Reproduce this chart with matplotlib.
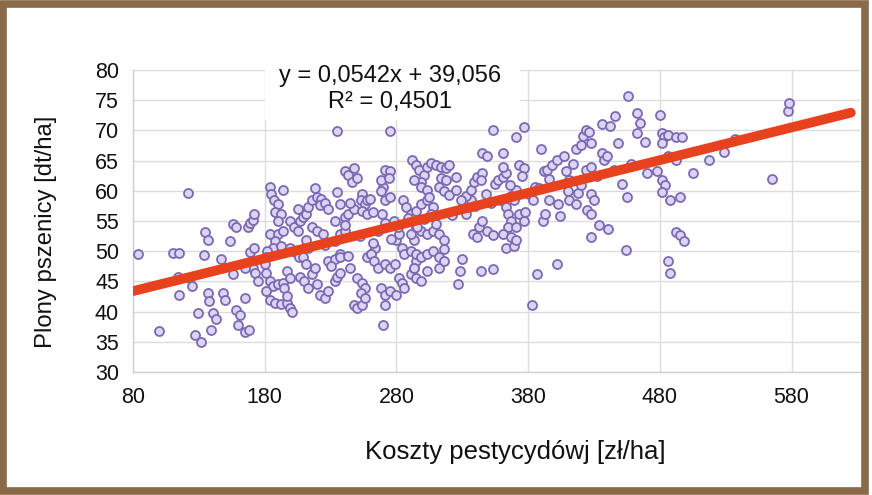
import matplotlib
matplotlib.use("Agg")
import matplotlib.pyplot as plt
from matplotlib.patches import Rectangle

plt.rcParams['font.family'] = ['Liberation Sans', 'DejaVu Sans']

# Scatter data: pesticide costs [zł/ha] vs wheat yield [dt/ha]
costs = [
    84, 100, 110, 115, 114, 115, 122, 123, 125, 129, 127, 132, 135, 137, 134, 137, 138,
    141, 143, 139, 147, 148, 150, 154, 156, 158, 156, 158, 161, 160, 165, 168, 165,
    167, 169, 171, 172, 169, 172, 171, 173, 175, 165,
    184, 185, 187, 190, 194, 188, 192, 190, 184, 190, 194, 188, 186, 192, 182, 181,
    180, 181, 184, 186, 190, 194, 181, 184, 188, 192, 197, 199, 201, 195, 197, 197, 199,
    199, 203, 206, 199, 202, 205, 207, 209, 211, 213, 216, 220, 218, 223, 222, 226, 228,
    216, 220, 224, 211, 213, 209, 211, 207, 210, 216, 218, 213, 220, 222, 226, 228, 233,
    235, 237, 228, 233, 237, 233, 237, 241, 233, 241, 243, 237, 235, 241, 243, 246, 248,
    250, 254, 253, 256, 258, 260, 248, 254, 258, 241, 237, 243, 245, 250, 254, 256, 253,
    248, 250, 254, 256, 258, 261, 264, 262, 266, 271, 269, 271, 275, 270, 268, 271, 275,
    274, 261, 263, 266, 271, 275, 279, 268, 271, 275, 271, 270, 275, 235,
    280, 282, 281, 278, 284, 286, 291, 293, 291, 282, 284, 286, 280, 291, 293, 295, 292,
    295, 297, 301, 299, 293, 303, 306, 310, 314, 318, 320, 285, 287, 291, 295, 299, 303,
    308, 306, 301, 299, 303, 312, 316, 320, 325, 314, 318, 325, 295, 299, 303, 308, 312,
    316, 316, 295, 299, 303, 308, 312, 293, 295, 299, 303, 312, 316, 327, 328, 330, 333,
    335, 337, 333, 337, 339, 341, 345, 344, 345, 349, 338, 341, 343, 345, 344, 353, 353,
    349, 353, 355, 357, 361, 363, 361, 361, 359, 363, 365, 367, 365, 361, 363, 367, 369,
    367, 369, 371, 373, 377, 371, 377, 373, 377, 371, 371,
    383, 387, 391, 393, 381, 384, 385, 390, 392, 394, 398, 396, 403, 402, 404, 402, 407,
    409, 411, 411, 416, 416, 420, 422, 424, 426, 428, 418, 420, 424, 428, 425, 428, 436,
    438, 440, 436, 442, 428, 434, 441, 428, 430, 446, 448, 451, 455, 454, 456, 463, 465,
    463, 469, 480, 482, 483, 482, 486, 492, 497, 478, 482, 484, 482, 488, 495, 486, 492,
    492, 495, 498, 486, 488, 505, 517, 529, 537, 565, 577, 578,
    230, 245, 262, 276, 289, 305, 322, 340, 352, 366, 378, 396, 410, 432, 458, 470,
    205, 226, 252, 268, 296, 310, 329, 348, 375, 388, 414, 445,
]
yields = [
    49.5, 36.8, 49.7, 49.7, 45.8, 42.8, 59.7, 45.5, 44.2, 39.8, 36.1, 35.0, 53.1, 51.8,
    49.4, 43.1, 41.7, 39.8, 38.7, 37.0, 48.7, 43.1, 42.0, 51.7, 54.5, 54.0, 46.2, 40.2,
    39.4, 37.8, 36.7, 37.0, 42.3, 54.0, 54.6, 55.2, 56.2, 49.9, 50.5, 47.3, 46.4, 45.0,
    47.3,
    60.7, 59.5, 58.5, 57.8, 60.2, 56.5, 56.2, 55.0, 52.9, 52.9, 53.4, 51.7, 50.6, 50.9,
    50.1, 49.0, 47.8, 46.4, 45.0, 44.2, 44.5, 44.8, 43.4, 42.0, 41.4, 41.3, 41.4, 40.6,
    40.0, 43.9, 42.5, 46.7, 45.6, 50.5, 49.8, 49.0, 55.0, 54.0, 53.4, 55.0, 55.6, 56.2,
    57.3, 58.4, 59.0, 60.4, 58.7, 57.6, 57.9, 57.0, 54.0, 53.4, 52.9, 51.8, 50.6, 49.0,
    47.8, 45.8, 45.0, 46.2, 47.3, 43.9, 44.5, 42.8, 42.3, 43.4, 45.0, 45.8, 46.4, 48.3,
    48.7, 49.5, 51.7, 52.9, 53.4, 55.0, 55.6, 56.2, 57.8, 59.8, 63.2, 62.6, 61.5, 63.7,
    62.2, 59.5, 58.4, 57.8, 58.4, 58.7, 57.0, 56.7, 56.2, 54.3, 49.0, 49.2, 47.3, 45.5,
    44.8, 43.9, 43.1, 41.1, 40.6, 41.1, 42.3, 49.0, 49.6, 50.5, 51.3, 53.4, 54.6, 56.2,
    58.4, 59.0, 60.7, 61.8, 63.4, 63.2, 62.1, 49.5, 48.4, 47.3, 47.8, 47.3, 47.8, 43.9,
    42.8, 43.4, 41.1, 37.8, 69.9, 69.9,
    51.8, 52.9, 54.0, 55.0, 50.6, 49.5, 50.1, 51.8, 52.9, 45.6, 44.8, 43.9, 42.8, 46.2,
    47.3, 48.4, 65.1, 64.3, 63.4, 62.6, 61.5, 61.8, 64.0, 64.6, 64.3, 64.0, 63.7, 64.3,
    58.4, 57.3, 56.2, 56.7, 57.8, 58.4, 57.3, 56.2, 55.3, 60.7, 60.1, 60.7, 59.9, 59.3,
    60.1, 62.1, 61.8, 62.3, 54.0, 53.4, 52.9, 53.4, 52.9, 51.8, 50.3, 49.6, 49.0, 49.6,
    50.1, 49.0, 47.3, 45.6, 45.0, 46.7, 47.3, 48.4, 44.5, 46.7, 48.7, 56.2, 57.3, 58.4,
    59.2, 60.1, 61.5, 62.3, 62.9, 61.8, 66.3, 65.7, 52.9, 52.3, 54.0, 55.0, 46.7, 47.0,
    70.1, 53.4, 52.6, 61.2, 61.8, 62.3, 62.9, 64.0, 66.2, 58.4, 57.3, 56.2, 55.0, 54.0,
    52.9, 50.6, 52.3, 50.9, 59.2, 58.4, 60.1, 64.3, 63.7, 68.9, 70.6, 56.2, 55.0, 54.0,
    51.8,
    41.1, 46.2, 55.0, 56.2, 59.5, 58.4, 60.7, 67.0, 63.2, 63.4, 64.3, 58.4, 57.8, 47.8,
    55.9, 65.1, 65.7, 63.2, 61.8, 58.4, 57.8, 67.0, 67.6, 69.0, 70.1, 69.8, 67.9, 59.6,
    61.0, 63.4, 64.0, 56.8, 56.2, 66.3, 65.1, 65.7, 71.0, 70.7, 52.3, 54.3, 53.7, 59.5,
    58.4, 72.4, 67.9, 61.2, 59.0, 50.2, 75.7, 72.9, 71.2, 69.6, 68.0, 72.6, 69.5, 68.9,
    67.9, 69.2, 68.9, 68.9, 63.2, 61.8, 61.0, 59.8, 58.4, 59.0, 65.7, 65.1, 53.1, 52.6,
    51.7, 48.4, 46.4, 62.9, 65.1, 66.5, 68.5, 62.0, 73.2, 74.6,
    47.5, 58.0, 56.5, 52.0, 55.5, 59.0, 56.0, 57.5, 58.0, 61.0, 56.5, 62.0, 60.0, 62.5,
    64.5, 63.0,
    57.0, 51.0, 52.5, 60.0, 54.0, 54.5, 58.5, 59.5, 62.5, 60.5, 64.5, 63.5,
]

# Linear trend line (Excel): y = 0,0542x + 39,056
slope = 0.0542
intercept = 39.056
r_squared = 0.4501
trend_range = [80, 625]

x_ticks = [80, 180, 280, 380, 480, 580]
y_ticks = [30, 35, 40, 45, 50, 55, 60, 65, 70, 75, 80]

W, H = 872, 495
fig = plt.figure(figsize=(W / 100, H / 100), dpi=100)
ax = fig.add_axes([133 / W, 1 - 372 / H, (860 - 133) / W, (372 - 70) / H])

ax.scatter(costs, yields, s=42, facecolor='#dcd4f2', edgecolor='#7a6ab4',
           linewidths=1.3, zorder=3)

tx = trend_range
ty = [slope * v + intercept for v in tx]
ax.plot(tx, ty, color='#e8411d', linewidth=7, solid_capstyle='round', zorder=4)

ax.set_xlim(80, 632)
ax.set_ylim(30, 80)
ax.set_xticks(x_ticks)
ax.set_yticks(y_ticks)
ax.grid(True, color='#dcdcdc', linewidth=1.0, zorder=0)
ax.set_axisbelow(True)
for s in ['top', 'right']:
    ax.spines[s].set_visible(False)
for s in ['left', 'bottom']:
    ax.spines[s].set_color('#d0d0d0')
    ax.spines[s].set_linewidth(1.0)
ax.tick_params(axis='both', length=0, labelsize=15.5, colors='#111111')
ax.tick_params(axis='x', pad=11)
ax.tick_params(axis='y', pad=10)

fig.text(46 / W, 1 - 232 / H, 'Plony pszenicy [dt/ha]', fontsize=17.2, rotation=90,
         ha='center', va='center', color='#111111')
fig.text(515 / W, 1 - 452 / H, 'Koszty pestycydówj [zł/ha]', fontsize=18.5,
         ha='center', va='center', color='#111111')

# white box behind the trend line equation
fig.patches.append(Rectangle((265 / W, 1 - 120 / H), (520 - 265) / W, (120 - 56) / H,
                             transform=fig.transFigure, facecolor='white',
                             edgecolor='none', zorder=5))
eq = f'y = {slope:.4f}x + {intercept:.3f}'.replace('.', ',')
r2 = f'R² = {r_squared:.4f}'.replace('.', ',')
fig.text(390 / W, 1 - 76 / H, eq, ha='center', va='center', fontsize=17, zorder=6,
         color='#111111')
fig.text(390 / W, 1 - 102 / H, r2, ha='center', va='center', fontsize=17, zorder=6,
         color='#111111')

# brown frame
fig.patches.append(Rectangle((0.004, 0.008), 0.988, 0.984, transform=fig.transFigure,
                             fill=False, edgecolor='#8a6a48', linewidth=5.5, zorder=7))

fig.savefig('out.png', dpi=100, facecolor='white')
